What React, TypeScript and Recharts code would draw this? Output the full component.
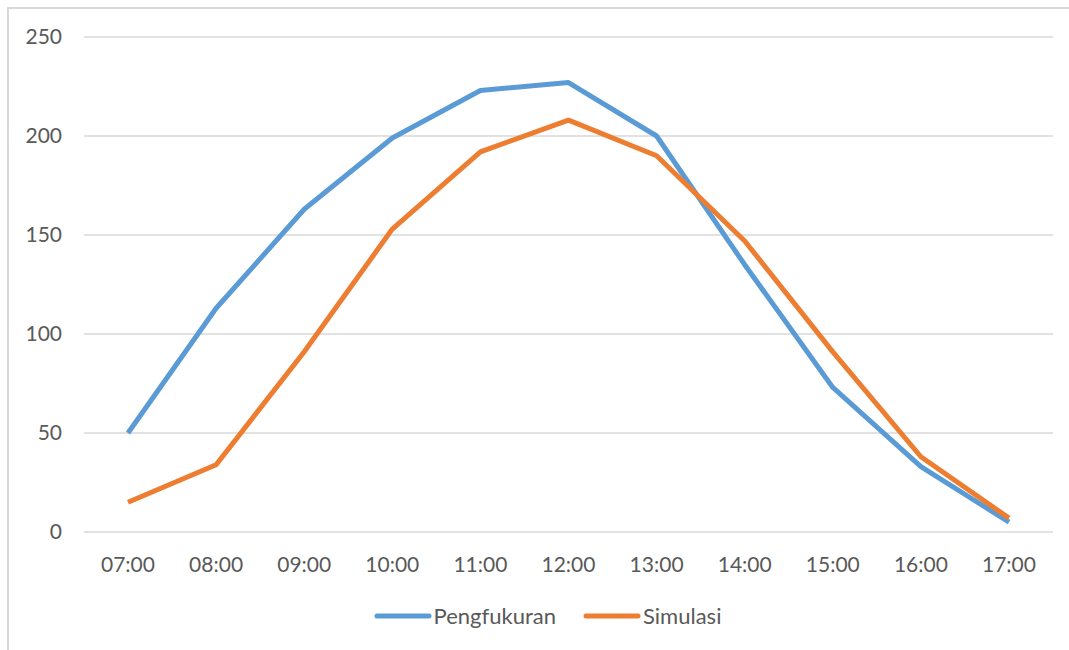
import { CartesianGrid, Legend, Line, LineChart, XAxis, YAxis } from "recharts";

const HOURS = ["07:00", "08:00", "09:00", "10:00", "11:00", "12:00", "13:00", "14:00", "15:00", "16:00", "17:00"];
const PENGUKURAN = [50, 113, 163, 199, 223, 227, 200, 135, 73, 33, 5];
const SIMULASI = [15, 34, 91, 153, 192, 208, 190, 147, 91, 38, 7];
const Y_TICKS = [0, 50, 100, 150, 200, 250];

const rows = HOURS.map((hour, i) => ({ hour, pengukuran: PENGUKURAN[i], simulasi: SIMULASI[i] }));

const FONT = "Lato, 'Open Sans', sans-serif";
const TEXT = "#595959";

// Excel-style legend: a long thick stroke followed by the label
function LegendRow({ payload }: any) {
  return (
    <div style={{ display: "flex", justifyContent: "center", alignItems: "center", gap: 27 }}>
      {(payload ?? []).map((item: any) => (
        <div key={item.value} style={{ display: "flex", alignItems: "center" }}>
          <svg width={58} height={8} style={{ display: "block" }}>
            <line x1={3} y1={4} x2={55} y2={4} stroke={item.color} strokeWidth={5} strokeLinecap="round" />
          </svg>
          <span style={{ fontFamily: FONT, fontSize: 22, color: TEXT, marginLeft: 2 }}>{item.value}</span>
        </div>
      ))}
    </div>
  );
}

export default function App() {
  return (
    <div style={{ position: "absolute", left: 0, top: 0, width: 1069, height: 650, overflow: "hidden", background: "#fff" }}>
      <div
        style={{
          position: "absolute",
          left: 7,
          top: 7,
          width: 1100,
          height: 700,
          border: "2px solid #d9d9d9",
          boxSizing: "border-box",
        }}
      />
      <LineChart
        width={1069}
        height={650}
        data={rows}
        margin={{ top: 37, right: 16, bottom: 51, left: 0 }}
        style={{ position: "absolute", left: 0, top: 0 }}
      >
        <CartesianGrid vertical={false} stroke="#d9d9d9" strokeWidth={1.5} />
        <XAxis
          dataKey="hour"
          padding={{ left: 44, right: 44 }}
          axisLine={false}
          tickLine={false}
          tickSize={0}
          tickMargin={25}
          height={40}
          interval={0}
          tick={{ fill: TEXT, fontSize: 21, fontFamily: FONT }}
        />
        <YAxis
          domain={[0, 250]}
          ticks={Y_TICKS}
          width={84}
          axisLine={false}
          tickLine={false}
          tickSize={0}
          tickMargin={22}
          tick={{ fill: TEXT, fontSize: 21, fontFamily: FONT }}
        />
        <Legend
          content={<LegendRow />}
          verticalAlign="bottom"
          wrapperStyle={{ left: 13, width: 1069, top: 602 }}
        />
        <Line
          dataKey="pengukuran"
          name="Pengfukuran"
          stroke="#5b9bd5"
          strokeWidth={5}
          dot={false}
          strokeLinejoin="round"
          isAnimationActive={false}
        />
        <Line
          dataKey="simulasi"
          name="Simulasi"
          stroke="#ed7d31"
          strokeWidth={5}
          dot={false}
          strokeLinejoin="round"
          isAnimationActive={false}
        />
      </LineChart>
    </div>
  );
}
